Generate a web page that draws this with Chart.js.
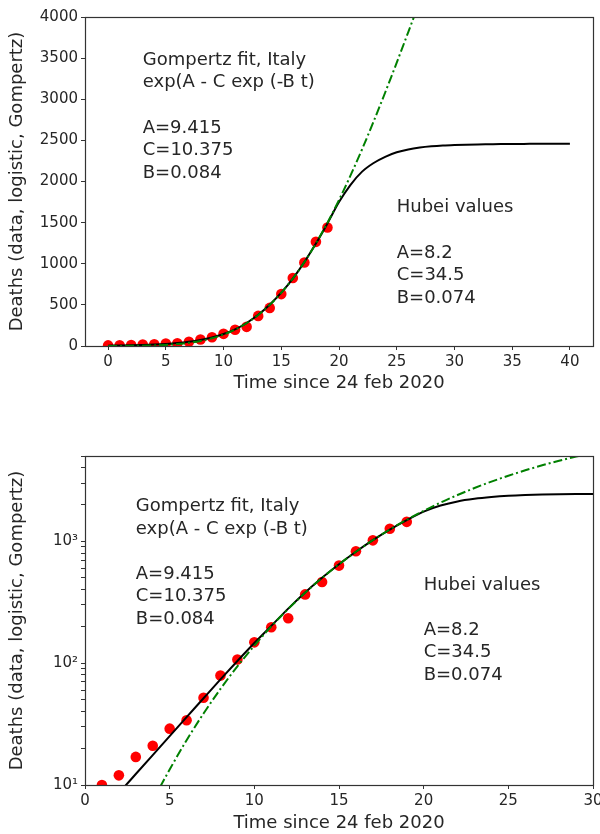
<!DOCTYPE html>
<html>
<head>
<meta charset="utf-8">
<script src="https://cdn.jsdelivr.net/npm/chart.js@4.4.1/dist/chart.umd.min.js"></script>
<style>
  html, body { margin: 0; padding: 0; background: #fff; overflow: hidden; }
  #graficoLineal { position: absolute; left: 0; top: 0; }
  #graficoLog { position: absolute; left: 0; top: 420px; }
</style>
</head>
<body>
<canvas id="graficoLineal" width="600" height="400"></canvas>
<canvas id="graficoLog" width="600" height="420"></canvas>
<script>
// Italy deaths, days since 24 feb 2020 (red dots)
var dias = [0, 1, 2, 3, 4, 5, 6, 7, 8, 9, 10, 11, 12, 13, 14, 15, 16, 17, 18, 19];
var muertes = [7, 10, 12, 17, 21, 29, 34, 52, 79, 107, 148, 197, 233, 366, 463, 631, 827, 1016, 1266, 1441];

// black solid curve
var diasCurva = [0, 1, 2, 3, 4, 5, 6, 7, 8, 9, 10, 11, 12, 13, 14, 15, 16, 17, 18, 19, 20,
    21, 22, 23, 24, 25, 26, 27, 28, 29, 30, 31, 32, 33, 34, 35, 36, 37, 38, 39, 40];
var curvaNegra = [4.2, 6.0, 8.6, 12.3, 17.6, 25.2, 36, 51.5, 73.5, 104, 146, 202, 280, 380, 502, 648,
    820, 1020, 1245, 1490, 1750, 1960, 2120, 2225, 2300, 2355, 2390, 2413, 2428, 2438, 2444,
    2448, 2451, 2453, 2455, 2456, 2457, 2458, 2459, 2459, 2460];

// green dash-dot curve (Gompertz fit, Italy)
var diasGompertz = [0, 1, 2, 3, 4, 5, 6, 7, 8, 9, 10, 11, 12, 13, 14, 15, 16, 17, 18, 19, 20,
    21, 22, 23, 24, 25, 26, 27, 28, 29, 30];
var curvaVerde = [0.38, 0.88, 1.9, 3.86, 7.4, 13.4, 23.3, 38.6, 61.4, 94.1, 139, 200, 278, 378, 500, 647,
    820, 1020, 1247, 1499, 1775, 2074, 2392, 2731, 3082, 3445, 3817, 4193, 4571, 4950, 5325];

var ticksLog = [10, 20, 30, 40, 50, 60, 70, 80, 90, 100, 200, 300, 400, 500, 600, 700, 800, 900,
    1000, 2000, 3000, 4000, 5000];
var etiquetasLog = { 10: '10\u00b9', 100: '10\u00b2', 1000: '10\u00b3' };

var textoItalia = ['Gompertz fit, Italy', 'exp(A - C exp (-B t)', '', 'A=9.415', 'C=10.375', 'B=0.084'];
var textoHubei = ['Hubei values', '', 'A=8.2', 'C=34.5', 'B=0.074'];

var fuente = 'DejaVu Sans';
var gris = '#262626';

function pares(xs, ys) {
    return xs.map(function (x, i) {
        return { x: x, y: ys[i] };
    });
}

// box round the plot, like matplotlib spines
var marco = {
    id: 'marco',
    afterDraw: function (chart) {
        var a = chart.chartArea;
        var ctx = chart.ctx;
        ctx.save();
        ctx.strokeStyle = '#333';
        ctx.lineWidth = 1.2;
        ctx.strokeRect(Math.round(a.left) + 0.5, Math.round(a.top) + 0.5,
            Math.round(a.right - a.left), Math.round(a.bottom - a.top));
        ctx.restore();
    }
};

// text annotations placed in data coordinates
var notas = {
    id: 'notas',
    afterDatasetsDraw: function (chart, args, opts) {
        var ctx = chart.ctx;
        ctx.save();
        ctx.font = '18px "' + fuente + '"';
        ctx.fillStyle = gris;
        ctx.textBaseline = 'middle';
        ctx.textAlign = 'left';
        opts.bloques.forEach(function (b) {
            var x = chart.scales.x.getPixelForValue(b.x);
            var y = chart.scales.y.getPixelForValue(b.y);
            b.lineas.forEach(function (t, i) {
                ctx.fillText(t, x, y + i * 22.6);
            });
        });
        ctx.restore();
    }
};

function datasets() {
    return [{
        label: 'Gompertz',
        data: pares(diasGompertz, curvaVerde),
        borderColor: '#008000',
        borderWidth: 2,
        borderDash: [9, 3, 2, 3],
        pointRadius: 0,
        cubicInterpolationMode: 'monotone',
        order: 0
    }, {
        label: 'logistic',
        data: pares(diasCurva, curvaNegra),
        borderColor: '#000',
        borderWidth: 2,
        pointRadius: 0,
        cubicInterpolationMode: 'monotone',
        order: 1
    }, {
        label: 'data',
        data: pares(dias, muertes),
        showLine: false,
        pointRadius: 5.3,
        pointBackgroundColor: '#ff0000',
        pointBorderWidth: 0,
        borderColor: '#ff0000',
        order: 2
    }];
}

function ejeX(min, max, alto) {
    return {
        type: 'linear',
        min: min,
        max: max,
        grid: { display: true, drawOnChartArea: false, drawTicks: true, tickLength: 4, tickColor: '#333' },
        border: { display: false },
        ticks: { stepSize: 5, includeBounds: false, padding: 3, color: gris, font: { family: fuente, size: 15 } },
        title: { display: true, text: 'Time since 24 feb 2020', color: gris, font: { family: fuente, size: 18 }, padding: { top: 0, bottom: 6 } },
        afterFit: function (s) {
            s.height = alto;
            s.paddingLeft = 0;
            s.paddingRight = 0;
        }
    };
}

function ejeY(extra) {
    var e = {
        grid: { display: true, drawOnChartArea: false, drawTicks: true, tickLength: 4, tickColor: '#333' },
        border: { display: false },
        ticks: { padding: 3, color: gris, font: { family: fuente, size: 15 } },
        title: { display: true, text: 'Deaths (data, logistic, Gompertz)', color: gris, font: { family: fuente, size: 18 }, padding: { top: 7, bottom: 0 } },
        afterFit: function (s) {
            s.width = 85;
            s.paddingTop = 0;
            s.paddingBottom = 0;
        }
    };
    Object.keys(extra).forEach(function (k) {
        if (k === 'ticks') {
            Object.assign(e.ticks, extra.ticks);
        } else {
            e[k] = extra[k];
        }
    });
    return e;
}

var yLineal = ejeY({
    type: 'linear',
    min: 0,
    max: 4000,
    ticks: {
        stepSize: 500,
        callback: function (v) {
            return String(v);
        }
    }
});

var yLog = ejeY({
    type: 'logarithmic',
    min: 10,
    max: 5000,
    ticks: {
        autoSkip: false,
        callback: function (v) {
            return etiquetasLog[v] || '';
        }
    },
    afterBuildTicks: function (s) {
        s.ticks = ticksLog.map(function (v) {
            return { value: v, major: !!etiquetasLog[v] };
        });
    }
});

new Chart(document.getElementById('graficoLineal').getContext('2d'), {
    type: 'line',
    data: { datasets: datasets() },
    options: {
        responsive: false,
        animation: false,
        layout: { padding: { top: 17, right: 7, bottom: 0, left: 0 } },
        scales: { x: ejeX(-2, 42, 54), y: yLineal },
        plugins: {
            legend: { display: false },
            tooltip: { enabled: false },
            notas: {
                bloques: [
                    { x: 3, y: 3475, lineas: textoItalia },
                    { x: 25, y: 1680, lineas: textoHubei }
                ]
            }
        }
    },
    plugins: [marco, notas]
});

new Chart(document.getElementById('graficoLog').getContext('2d'), {
    type: 'line',
    data: { datasets: datasets() },
    options: {
        responsive: false,
        animation: false,
        layout: { padding: { top: 36, right: 7, bottom: 0, left: 0 } },
        scales: { x: ejeX(0, 30, 55), y: yLog },
        plugins: {
            legend: { display: false },
            tooltip: { enabled: false },
            notas: {
                bloques: [
                    { x: 3, y: 1932, lineas: textoItalia },
                    { x: 20, y: 437, lineas: textoHubei }
                ]
            }
        }
    },
    plugins: [marco, notas]
});
</script>
</body>
</html>
